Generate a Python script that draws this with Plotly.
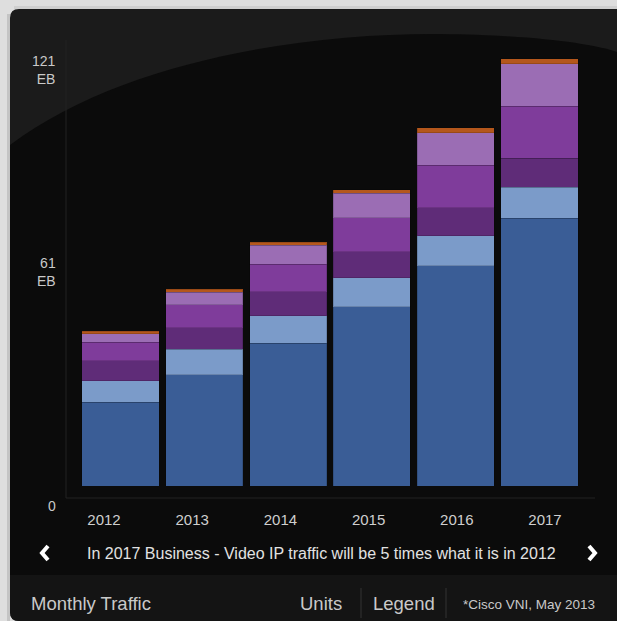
import plotly.graph_objects as go

# Monthly IP traffic (EB per month), stacked by segment
years = ["2012", "2013", "2014", "2015", "2016", "2017"]
seg_blue = [23.7, 31.5, 40.4, 50.7, 62.3, 75.7]
seg_lightblue = [6.0, 7.2, 7.7, 8.2, 8.5, 8.8]
seg_darkpurple = [5.7, 6.0, 6.8, 7.3, 7.9, 8.2]
seg_purple = [5.2, 6.5, 7.8, 9.6, 11.9, 14.6]
seg_lightpurple = [2.5, 3.6, 5.4, 6.9, 9.2, 12.1]
seg_orange = [0.6, 0.8, 0.8, 1.1, 1.4, 1.3]

y_labels = ["121<br>EB", "61<br>EB", "0"]
caption = "In 2017 Business - Video IP traffic will be 5 times what it is in 2012"
footer_left = "Monthly Traffic"
footer_items = ["Units", "Legend"]
source_note = "*Cisco VNI, May 2013"

W, H = 617, 621
FONT = "Liberation Sans, Arial, Helvetica, sans-serif"


def px(x):
    return x / W


def py(y):
    return 1 - y / H


def path(points, close=True):
    s = "M " + " L ".join(f"{px(x):.5f},{py(y):.5f}" for x, y in points)
    return s + (" Z" if close else "")


series = [
    (seg_blue, "#3a5d96"),
    (seg_lightblue, "#7b9bc9"),
    (seg_darkpurple, "#5f2c78"),
    (seg_purple, "#7f3c9b"),
    (seg_lightpurple, "#9b6db4"),
    (seg_orange, "#b4571c"),
]

fig = go.Figure()
for vals, col in series:
    fig.add_trace(go.Bar(
        x=years, y=vals, marker=dict(color=col, line=dict(color="rgba(0,0,0,0.15)", width=1)),
        showlegend=False, hoverinfo="skip",
    ))

# invisible trace carrying the year labels on their own axis
fig.add_trace(go.Scatter(x=years, y=[0] * len(years), xaxis="x2", mode="markers",
                         marker=dict(opacity=0), showlegend=False, hoverinfo="skip"))

shapes = []
# card body
shapes.append(dict(type="path", xref="paper", yref="paper", layer="below", line=dict(width=0),
                   fillcolor="#1b1b1b",
                   path=f"M {px(10)},{py(18)} Q {px(10)},{py(9)} {px(19)},{py(9)} L {px(617)},{py(9)} "
                        f"L {px(617)},{py(621)} L {px(19)},{py(621)} Q {px(10)},{py(621)} {px(10)},{py(612)} Z"))
# darker arc region
shapes.append(dict(type="path", xref="paper", yref="paper", layer="below", line=dict(width=0),
                   fillcolor="#0b0b0b",
                   path=f"M {px(10)},{py(145)} C {px(120)},{py(62)} {px(300)},{py(33)} {px(440)},{py(34)} "
                        f"C {px(530)},{py(35)} {px(590)},{py(43)} {px(617)},{py(52)} "
                        f"L {px(617)},{py(575)} L {px(10)},{py(575)} Z"))
# footer bar
shapes.append(dict(type="path", xref="paper", yref="paper", layer="below", line=dict(width=0),
                   fillcolor="#141414",
                   path=f"M {px(10)},{py(575)} L {px(617)},{py(575)} L {px(617)},{py(621)} "
                        f"L {px(19)},{py(621)} Q {px(10)},{py(621)} {px(10)},{py(612)} Z"))
# card edge shading
shapes.append(dict(type="rect", xref="paper", yref="paper", layer="below", line=dict(width=0),
                   fillcolor="#c4c4c4", x0=px(7), x1=px(10), y0=py(621), y1=py(14)))
shapes.append(dict(type="rect", xref="paper", yref="paper", layer="below", line=dict(width=0),
                   fillcolor="#cfcfcf", x0=px(14), x1=px(617), y0=py(9), y1=py(6)))
# faint axis guides
shapes.append(dict(type="line", xref="paper", yref="paper", layer="below",
                   line=dict(color="#222222", width=1), x0=px(66), x1=px(66), y0=py(40), y1=py(498)))
shapes.append(dict(type="line", xref="paper", yref="paper", layer="below",
                   line=dict(color="#222222", width=1), x0=px(66), x1=px(595), y0=py(498), y1=py(498)))
# navigation chevrons
shapes.append(dict(type="path", xref="paper", yref="paper", line=dict(color="#ffffff", width=4),
                   path=path([(48, 546), (42, 553), (48, 560)], close=False)))
shapes.append(dict(type="path", xref="paper", yref="paper", line=dict(color="#ffffff", width=4),
                   path=path([(589, 546), (595, 553), (589, 560)], close=False)))
# footer separators
for sx in (361, 446):
    shapes.append(dict(type="line", xref="paper", yref="paper", line=dict(color="#333333", width=1),
                       x0=px(sx), x1=px(sx), y0=py(588), y1=py(618)))

annotations = []
label_pos = [(58, 70), (58, 272), (58, 506)]
for txt, (lx, ly) in zip(y_labels, label_pos):
    annotations.append(dict(text=txt, xref="paper", yref="paper", x=px(lx), y=py(ly), xanchor="right",
                            yanchor="middle", showarrow=False, align="right",
                            font=dict(family=FONT, size=14, color="#c9c9c9")))
annotations.append(dict(text=caption, xref="paper", yref="paper", x=px(321), y=py(553), showarrow=False,
                        xanchor="center", yanchor="middle", font=dict(family=FONT, size=16, color="#e2e2e2")))
annotations.append(dict(text=footer_left, xref="paper", yref="paper", x=px(29), y=py(603), showarrow=False,
                        xanchor="left", yanchor="middle", font=dict(family=FONT, size=18.5, color="#c9c9c9")))
for txt, cx in zip(footer_items, (321, 404)):
    annotations.append(dict(text=txt, xref="paper", yref="paper", x=px(cx), y=py(603), showarrow=False,
                            xanchor="center", yanchor="middle", font=dict(family=FONT, size=18.5, color="#c9c9c9")))
annotations.append(dict(text=source_note, xref="paper", yref="paper", x=px(461), y=py(604), showarrow=False,
                        xanchor="left", yanchor="middle", font=dict(family=FONT, size=13.5, color="#c9c9c9")))

# bar geometry: baseline at y=486px, 3.538 px per EB, 83.8 px pitch
y0_px, top_px, scale = 486, 40, 3.538
fig.update_layout(
    width=W, height=H,
    margin=dict(l=0, r=0, t=0, b=0),
    paper_bgcolor="#dedede",
    plot_bgcolor="rgba(0,0,0,0)",
    barmode="stack",
    bargap=0.081,
    xaxis=dict(domain=[px(78.6), px(581.4)], range=[-0.5, 5.5], type="category",
               showticklabels=False, showgrid=False, zeroline=False, showline=False, fixedrange=True),
    xaxis2=dict(domain=[px(59.9), px(589.1)], range=[-0.5, 5.5], type="category", anchor="free",
                position=py(509), side="bottom", showgrid=False, zeroline=False, showline=False,
                ticks="", tickfont=dict(family=FONT, size=15, color="#cfcfcf")),
    yaxis=dict(domain=[py(y0_px), py(top_px)], range=[0, (y0_px - top_px) / scale],
               showticklabels=False, showgrid=False, zeroline=False, showline=False, fixedrange=True),
    shapes=shapes,
    annotations=annotations,
    showlegend=False,
)

fig.write_html("out.html")
